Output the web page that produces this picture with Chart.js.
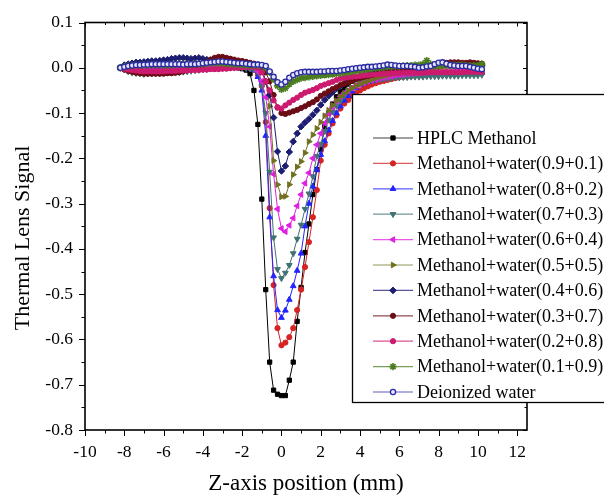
<!DOCTYPE html>
<html>
<head>
<meta charset="utf-8">
<script src="https://cdn.jsdelivr.net/npm/chart.js@4.4.1/dist/chart.umd.min.js"></script>
<style>
  body { margin: 0; background: #fff; }
  canvas { display: block; }
</style>
</head>
<body>
<canvas id="zscanChart" width="604" height="495"></canvas>
<script>
// Z-scan thermal lens signal
const zPos = [
  -8.2, -8.0, -7.8, -7.6, -7.4, -7.2, -7.0, -6.8, -6.6, -6.4,
  -6.2, -6.0, -5.8, -5.6, -5.4, -5.2, -5.0, -4.8, -4.6, -4.4,
  -4.2, -4.0, -3.8, -3.6, -3.4, -3.2, -3.0, -2.8, -2.6, -2.4,
  -2.2, -2.0, -1.8, -1.6, -1.4, -1.2, -1.0, -0.8, -0.6, -0.4,
  -0.2, 0.0, 0.2, 0.4, 0.6, 0.8, 1.0, 1.2, 1.4, 1.6,
  1.8, 2.0, 2.2, 2.4, 2.6, 2.8, 3.0, 3.2, 3.4, 3.6,
  3.8, 4.0, 4.2, 4.4, 4.6, 4.8, 5.0, 5.2, 5.4, 5.6,
  5.8, 6.0, 6.2, 6.4, 6.6, 6.8, 7.0, 7.2, 7.4, 7.6,
  7.8, 8.0, 8.2, 8.4, 8.6, 8.8, 9.0, 9.2, 9.4, 9.6,
  9.8, 10.0, 10.2
];

const hplcMethanol = [
  0.0, 0.002, 0.003, 0.004, 0.004, 0.004, 0.005, 0.005, 0.005, 0.005,
  0.005, 0.005, 0.005, 0.005, 0.005, 0.005, 0.005, 0.005, 0.005, 0.005,
  0.005, 0.005, 0.005, 0.005, 0.005, 0.004, 0.004, 0.004, 0.003, 0.002,
  0.0, -0.002, -0.005, -0.013, -0.05, -0.125, -0.29, -0.49, -0.65, -0.712,
  -0.721, -0.724, -0.724, -0.69, -0.65, -0.56, -0.485, -0.408, -0.345, -0.28,
  -0.225, -0.18, -0.13, -0.1, -0.08, -0.064, -0.053, -0.045, -0.036, -0.03,
  -0.026, -0.023, -0.021, -0.019, -0.018, -0.017, -0.016, -0.016, -0.015, -0.015,
  -0.014, -0.014, -0.014, -0.013, -0.013, -0.013, -0.012, -0.012, -0.012, -0.012,
  -0.011, -0.011, -0.011, -0.011, -0.011, -0.01, -0.01, -0.01, -0.01, -0.01,
  -0.01, -0.01, -0.01
];
const mw91 = [
  0.0, 0.001, 0.002, 0.002, 0.003, 0.003, 0.003, 0.003, 0.003, 0.003,
  0.003, 0.003, 0.003, 0.003, 0.003, 0.003, 0.003, 0.003, 0.003, 0.003,
  0.003, 0.004, 0.004, 0.004, 0.004, 0.004, 0.004, 0.003, 0.003, 0.003,
  0.002, 0.002, 0.001, -0.001, -0.005, -0.015, -0.04, -0.12, -0.31, -0.48,
  -0.575, -0.613, -0.607, -0.595, -0.575, -0.535, -0.49, -0.44, -0.385, -0.33,
  -0.27, -0.205, -0.17, -0.145, -0.123, -0.105, -0.09, -0.079, -0.071, -0.062,
  -0.056, -0.05, -0.045, -0.041, -0.037, -0.034, -0.031, -0.029, -0.027, -0.025,
  -0.023, -0.021, -0.02, -0.019, -0.018, -0.017, -0.016, -0.015, -0.015, -0.014,
  -0.014, -0.013, -0.013, -0.012, -0.012, -0.012, -0.011, -0.011, -0.011, -0.011,
  -0.011, -0.011, -0.011
];
const mw82 = [
  0.0, 0.001, 0.002, 0.003, 0.003, 0.003, 0.003, 0.003, 0.003, 0.003,
  0.003, 0.003, 0.003, 0.003, 0.003, 0.003, 0.004, 0.004, 0.004, 0.004,
  0.004, 0.004, 0.004, 0.004, 0.004, 0.004, 0.004, 0.004, 0.004, 0.004,
  0.004, 0.003, 0.002, 0.0, -0.005, -0.02, -0.05, -0.15, -0.33, -0.46,
  -0.535, -0.552, -0.536, -0.512, -0.482, -0.448, -0.41, -0.35, -0.3, -0.262,
  -0.225, -0.192, -0.162, -0.138, -0.117, -0.1, -0.085, -0.072, -0.062, -0.052,
  -0.044, -0.038, -0.034, -0.031, -0.029, -0.027, -0.025, -0.023, -0.021, -0.02,
  -0.019, -0.018, -0.017, -0.016, -0.016, -0.015, -0.015, -0.014, -0.014, -0.014,
  -0.013, -0.013, -0.013, -0.012, -0.012, -0.012, -0.012, -0.012, -0.011, -0.011,
  -0.011, -0.011, -0.011
];
const mw73 = [
  0.0, -0.004, -0.008, -0.011, -0.012, -0.013, -0.014, -0.013, -0.013, -0.012,
  -0.012, -0.011, -0.011, -0.01, -0.01, -0.01, -0.009, -0.008, -0.007, -0.006,
  -0.005, -0.004, -0.003, -0.002, -0.002, -0.001, -0.001, 0.0, 0.0, 0.0,
  0.0, 0.0, -0.001, -0.002, -0.004, -0.01, -0.04, -0.1, -0.23, -0.375,
  -0.445, -0.465, -0.453, -0.436, -0.41, -0.378, -0.347, -0.312, -0.278, -0.24,
  -0.195, -0.168, -0.14, -0.115, -0.097, -0.084, -0.073, -0.061, -0.05, -0.043,
  -0.037, -0.033, -0.031, -0.029, -0.028, -0.027, -0.026, -0.025, -0.024, -0.023,
  -0.022, -0.022, -0.021, -0.021, -0.02, -0.02, -0.02, -0.02, -0.019, -0.019,
  -0.019, -0.019, -0.018, -0.018, -0.018, -0.018, -0.018, -0.017, -0.017, -0.017,
  -0.017, -0.017, -0.016
];
const mw64 = [
  0.0, 0.001, 0.002, 0.003, 0.003, 0.004, 0.004, 0.004, 0.004, 0.004,
  0.004, 0.004, 0.004, 0.004, 0.004, 0.004, 0.005, 0.005, 0.005, 0.005,
  0.005, 0.006, 0.006, 0.006, 0.006, 0.006, 0.006, 0.006, 0.005, 0.005,
  0.005, 0.004, 0.004, 0.003, 0.002, -0.008, -0.03, -0.065, -0.13, -0.235,
  -0.312, -0.355, -0.362, -0.348, -0.332, -0.305, -0.28, -0.255, -0.232, -0.2,
  -0.17, -0.145, -0.122, -0.102, -0.087, -0.074, -0.063, -0.056, -0.05, -0.045,
  -0.04, -0.036, -0.033, -0.03, -0.028, -0.026, -0.024, -0.022, -0.02, -0.019,
  -0.017, -0.016, -0.015, -0.014, -0.013, -0.012, -0.011, -0.011, -0.01, -0.01,
  -0.009, -0.009, -0.009, -0.008, -0.008, -0.008, -0.008, -0.007, -0.007, -0.007,
  -0.006, -0.006, -0.006
];
const mw55 = [
  0.0, 0.002, 0.004, 0.005, 0.005, 0.006, 0.006, 0.006, 0.006, 0.006,
  0.006, 0.006, 0.006, 0.006, 0.006, 0.007, 0.007, 0.007, 0.007, 0.008,
  0.008, 0.009, 0.01, 0.011, 0.012, 0.012, 0.012, 0.011, 0.01, 0.009,
  0.009, 0.008, 0.008, 0.008, 0.007, 0.004, -0.01, -0.03, -0.085, -0.205,
  -0.258, -0.285, -0.284, -0.258, -0.236, -0.219, -0.207, -0.188, -0.163, -0.148,
  -0.134, -0.12, -0.106, -0.094, -0.083, -0.073, -0.064, -0.057, -0.05, -0.045,
  -0.04, -0.036, -0.032, -0.029, -0.026, -0.023, -0.02, -0.018, -0.016, -0.014,
  -0.012, -0.01, -0.008, -0.007, -0.006, -0.005, -0.004, -0.003, -0.002, -0.001,
  0.0, 0.001, 0.002, 0.003, 0.003, 0.004, 0.004, 0.005, 0.005, 0.005,
  0.005, 0.005, 0.005
];
const mw46 = [
  0.0, 0.006, 0.008, 0.01, 0.012, 0.012, 0.013, 0.014, 0.015, 0.015,
  0.016, 0.017, 0.018, 0.02, 0.021, 0.022, 0.022, 0.021, 0.02, 0.021,
  0.022, 0.02, 0.018, 0.017, 0.016, 0.015, 0.014, 0.013, 0.012, 0.011,
  0.011, 0.01, 0.01, 0.009, 0.008, 0.006, 0.0, -0.03, -0.06, -0.11,
  -0.185, -0.228, -0.217, -0.186, -0.163, -0.145, -0.13, -0.121, -0.113, -0.104,
  -0.094, -0.082, -0.071, -0.062, -0.054, -0.046, -0.04, -0.035, -0.03, -0.026,
  -0.022, -0.019, -0.016, -0.014, -0.012, -0.01, -0.008, -0.006, -0.005, -0.004,
  -0.002, -0.001, 0.0, 0.001, 0.002, 0.003, 0.003, 0.004, 0.005, 0.005,
  0.006, 0.006, 0.007, 0.007, 0.006, 0.006, 0.007, 0.007, 0.006, 0.006,
  0.005, 0.005, 0.004
];
const mw37 = [
  0.0, -0.004, -0.007, -0.009, -0.011, -0.012, -0.013, -0.013, -0.013, -0.013,
  -0.013, -0.013, -0.012, -0.012, -0.011, -0.01, -0.008, -0.006, -0.003, 0.0,
  0.004, 0.008, 0.013, 0.018, 0.022, 0.024, 0.024, 0.022, 0.02, 0.018,
  0.016, 0.015, 0.013, 0.011, 0.009, 0.006, 0.003, -0.01, -0.03, -0.06,
  -0.088, -0.1, -0.102, -0.099, -0.096, -0.093, -0.089, -0.085, -0.08, -0.076,
  -0.07, -0.062, -0.057, -0.052, -0.047, -0.043, -0.038, -0.035, -0.032, -0.029,
  -0.025, -0.022, -0.02, -0.018, -0.016, -0.014, -0.012, -0.011, -0.01, -0.008,
  -0.006, -0.004, -0.003, -0.002, -0.001, 0.0, 0.002, 0.003, 0.005, 0.006,
  0.007, 0.008, 0.01, 0.011, 0.012, 0.012, 0.012, 0.011, 0.011, 0.012,
  0.011, 0.01, 0.009
];
const mw28 = [
  0.0, -0.002, -0.004, -0.005, -0.006, -0.007, -0.008, -0.008, -0.008, -0.008,
  -0.008, -0.008, -0.007, -0.007, -0.007, -0.006, -0.006, -0.006, -0.005, -0.005,
  -0.005, -0.004, -0.004, -0.003, -0.003, -0.003, -0.002, -0.002, -0.001, 0.0,
  0.0, 0.001, 0.002, 0.002, 0.002, 0.0, -0.01, -0.03, -0.05, -0.072,
  -0.087, -0.09, -0.083, -0.077, -0.071, -0.066, -0.06, -0.055, -0.052, -0.049,
  -0.045, -0.04, -0.037, -0.034, -0.031, -0.027, -0.024, -0.022, -0.021, -0.02,
  -0.019, -0.018, -0.017, -0.016, -0.015, -0.015, -0.014, -0.013, -0.013, -0.012,
  -0.012, -0.012, -0.011, -0.011, -0.011, -0.011, -0.011, -0.011, -0.01, -0.01,
  -0.01, -0.01, -0.01, -0.01, -0.01, -0.01, -0.01, -0.01, -0.009, -0.009,
  -0.009, -0.009, -0.009
];
const mw19 = [
  0.0, 0.003, 0.004, 0.005, 0.006, 0.006, 0.006, 0.007, 0.007, 0.007,
  0.007, 0.006, 0.006, 0.007, 0.007, 0.008, 0.008, 0.007, 0.007, 0.008,
  0.008, 0.009, 0.009, 0.01, 0.01, 0.01, 0.01, 0.009, 0.008, 0.008,
  0.007, 0.007, 0.006, 0.006, 0.006, 0.006, 0.005, 0.0, -0.01, -0.025,
  -0.04, -0.048, -0.045, -0.036, -0.03, -0.026, -0.023, -0.022, -0.02, -0.019,
  -0.018, -0.017, -0.016, -0.015, -0.014, -0.013, -0.012, -0.011, -0.01, -0.008,
  -0.007, -0.005, -0.004, -0.003, -0.002, -0.001, 0.0, 0.001, 0.002, 0.003,
  0.003, 0.003, 0.004, 0.005, 0.005, 0.006, 0.006, 0.008, 0.016, 0.008,
  0.006, 0.006, 0.006, 0.007, 0.006, 0.006, 0.006, 0.006, 0.005, 0.005,
  0.005, 0.005, 0.008
];
const deionizedWater = [
  0.0, 0.002, 0.004, 0.005, 0.006, 0.006, 0.007, 0.007, 0.008, 0.008,
  0.008, 0.008, 0.008, 0.008, 0.008, 0.008, 0.007, 0.008, 0.008, 0.008,
  0.009, 0.01, 0.011, 0.012, 0.013, 0.014, 0.014, 0.013, 0.012, 0.011,
  0.01, 0.01, 0.009, 0.008, 0.007, 0.007, 0.006, 0.004, -0.008, -0.02,
  -0.032, -0.037, -0.031, -0.022, -0.016, -0.012, -0.01, -0.009, -0.009, -0.009,
  -0.009, -0.008, -0.008, -0.007, -0.007, -0.007, -0.006, -0.005, -0.003, -0.002,
  -0.001, 0.0, 0.001, 0.002, 0.002, 0.003, 0.004, 0.005, 0.007, 0.006,
  0.005, 0.004, 0.004, 0.004, 0.003, 0.002, 0.0, 0.001, 0.003, 0.004,
  0.008, 0.011, 0.012, 0.009, 0.006, 0.005, 0.004, 0.004, 0.004, 0.002,
  0.0, -0.002, -0.003
];

const seriesLabels = [
  'HPLC Methanol',
  'Methanol+water(0.9+0.1)',
  'Methanol+water(0.8+0.2)',
  'Methanol+water(0.7+0.3)',
  'Methanol+water(0.6+0.4)',
  'Methanol+water(0.5+0.5)',
  'Methanol+water(0.4+0.6)',
  'Methanol+water(0.3+0.7)',
  'Methanol+water(0.2+0.8)',
  'Methanol+water(0.1+0.9)',
  'Deionized water'
];
const seriesValues = [hplcMethanol, mw91, mw82, mw73, mw64, mw55, mw46, mw37, mw28, mw19, deionizedWater];

const xTicks = [-10, -8, -6, -4, -2, 0, 2, 4, 6, 8, 10, 12];
const yTicks = [-0.8, -0.7, -0.6, -0.5, -0.4, -0.3, -0.2, -0.1, 0.0, 0.1];
const xTitle = 'Z-axis position (mm)';
const yTitle = 'Thermal Lens Signal';

// marker / colour per series (Origin-like defaults)
const styles = [
  { color: '#000000', fill: '#000000', shape: 'rect', radius: 3, rot: 0 },
  { color: '#d42424', fill: '#d42424', shape: 'circle', radius: 2.6, rot: 0 },
  { color: '#2323ff', fill: '#2323ff', shape: 'triangle', radius: 3.3, rot: 0 },
  { color: '#407272', fill: '#407272', shape: 'triangle', radius: 3.3, rot: 180 },
  { color: '#e01fe0', fill: '#e01fe0', shape: 'triangle', radius: 3.3, rot: 270 },
  { color: '#707020', fill: '#707020', shape: 'triangle', radius: 3.3, rot: 90 },
  { color: '#1d1d72', fill: '#1d1d72', shape: 'rectRot', radius: 3.3, rot: 0 },
  { color: '#6b0d15', fill: '#6b0d15', shape: 'circle', radius: 2.6, rot: 0 },
  { color: '#cc1a6e', fill: '#cc1a6e', shape: 'circle', radius: 2.6, rot: 0 },
  { color: '#4b7d20', fill: '#4b7d20', shape: 'star', radius: 3.6, rot: 0 },
  { color: '#2a2aa2', fill: '#e6e6ff', shape: 'circle', radius: 2.6, rot: 0 }
];

const serif = 'Liberation Serif';

const datasets = seriesLabels.map((label, i) => ({
  label: label,
  data: zPos.map((z, k) => ({ x: z, y: seriesValues[i][k] })),
  borderColor: styles[i].color,
  borderWidth: 1,
  tension: 0,
  pointStyle: styles[i].shape,
  pointRotation: styles[i].rot,
  pointRadius: styles[i].radius,
  pointBackgroundColor: styles[i].fill,
  pointBorderColor: styles[i].color,
  pointBorderWidth: i === 9 ? 1.6 : (i === 10 ? 1.3 : 1),
  order: seriesLabels.length - i
}));

// box, ticks on all four sides (minor ticks half way)
const axisFrame = {
  id: 'axisFrame',
  afterDatasetsDraw(chart) {
    const { ctx, chartArea: a } = chart;
    const xs = chart.scales.x, ys = chart.scales.y;
    const xMinor = xTicks.slice(1).map((v, k) => (v + xTicks[k]) / 2);
    const yMinor = yTicks.slice(1).map((v, k) => (v + yTicks[k]) / 2);
    ctx.save();
    ctx.strokeStyle = '#000';
    ctx.lineWidth = 1;
    ctx.beginPath();
    xTicks.forEach(v => {
      const p = Math.round(xs.getPixelForValue(v)) + 0.5;
      ctx.moveTo(p, a.bottom); ctx.lineTo(p, a.bottom + 6);
      ctx.moveTo(p, a.top); ctx.lineTo(p, a.top + 4);
    });
    xMinor.forEach(v => {
      const p = Math.round(xs.getPixelForValue(v)) + 0.5;
      ctx.moveTo(p, a.bottom); ctx.lineTo(p, a.bottom + 3.5);
      ctx.moveTo(p, a.top); ctx.lineTo(p, a.top + 2.5);
    });
    yTicks.forEach(v => {
      const p = Math.round(ys.getPixelForValue(v)) + 0.5;
      ctx.moveTo(a.left - 6, p); ctx.lineTo(a.left, p);
      ctx.moveTo(a.right, p); ctx.lineTo(a.right - 4, p);
    });
    yMinor.forEach(v => {
      const p = Math.round(ys.getPixelForValue(v)) + 0.5;
      ctx.moveTo(a.left - 3.5, p); ctx.lineTo(a.left, p);
      ctx.moveTo(a.right, p); ctx.lineTo(a.right - 2.5, p);
    });
    ctx.stroke();
    ctx.lineWidth = 1.6;
    ctx.strokeRect(a.left, a.top, a.right - a.left, a.bottom - a.top);
    ctx.restore();
  }
};

// rotated y title, sits a little below the plot centre like the original
const yAxisTitle = {
  id: 'yAxisTitle',
  afterDraw(chart) {
    const ctx = chart.ctx;
    ctx.save();
    ctx.translate(23, 238);
    ctx.rotate(-Math.PI / 2);
    ctx.font = '22px "' + serif + '"';
    ctx.fillStyle = '#000';
    ctx.textAlign = 'center';
    ctx.textBaseline = 'middle';
    ctx.fillText(yTitle, 0, 0);
    ctx.restore();
  }
};

// boxed legend overlapping the right side of the plot
const boxLegend = {
  id: 'boxLegend',
  afterDraw(chart) {
    const ctx = chart.ctx;
    const left = 352.5, top = 94.5, bottom = 402.5;
    ctx.save();
    ctx.fillStyle = '#fff';
    ctx.fillRect(left, top, 300, bottom - top);
    ctx.strokeStyle = '#000';
    ctx.lineWidth = 1.3;
    ctx.strokeRect(left, top, 300, bottom - top);
    ctx.font = '18px "' + serif + '"';
    ctx.textBaseline = 'middle';
    chart.data.datasets.forEach((ds, i) => {
      const yy = 138 + i * 25.4;
      ctx.strokeStyle = ds.borderColor;
      ctx.globalAlpha = 0.75;
      ctx.lineWidth = 1.2;
      ctx.beginPath();
      ctx.moveTo(373, yy); ctx.lineTo(413, yy);
      ctx.stroke();
      ctx.globalAlpha = 1;
      ctx.fillStyle = ds.pointBackgroundColor;
      ctx.strokeStyle = ds.pointBorderColor;
      ctx.lineWidth = ds.pointBorderWidth;
      Chart.helpers.drawPoint(ctx, {
        pointStyle: ds.pointStyle,
        rotation: ds.pointRotation,
        radius: ds.pointRadius,
        borderWidth: ds.pointBorderWidth
      }, 393, yy);
      ctx.fillStyle = '#000';
      ctx.fillText(ds.label, 417, yy + 1);
    });
    ctx.restore();
  }
};

const ctx = document.getElementById('zscanChart').getContext('2d');
const zscanChart = new Chart(ctx, {
  type: 'line',
  data: { datasets: datasets },
  options: {
    responsive: false,
    animation: false,
    devicePixelRatio: 1,
    layout: { padding: { left: 0, right: 77, top: 20, bottom: 0 } },
    plugins: {
      legend: { display: false },
      tooltip: { enabled: false }
    },
    scales: {
      x: {
        type: 'linear',
        min: -10,
        max: 12.5,
        afterBuildTicks: s => { s.ticks = xTicks.map(v => ({ value: v })); },
        afterFit: s => { s.height = 65; },
        grid: { display: false, drawTicks: false },
        border: { display: false },
        ticks: {
          padding: 12,
          maxRotation: 0,
          autoSkip: false,
          color: '#000',
          font: { family: serif, size: 17.5 },
          callback: v => String(v)
        },
        title: {
          display: true,
          text: xTitle,
          color: '#000',
          font: { family: serif, size: 23 },
          padding: { top: 0, bottom: -3 }
        }
      },
      y: {
        type: 'linear',
        min: -0.8,
        max: 0.1,
        afterBuildTicks: s => { s.ticks = yTicks.map(v => ({ value: v })); },
        afterFit: s => { s.width = 85; },
        grid: { display: false, drawTicks: false },
        border: { display: false },
        ticks: {
          padding: 12,
          color: '#000',
          font: { family: serif, size: 17.5 },
          callback: v => v.toFixed(1)
        }
      }
    }
  },
  plugins: [axisFrame, yAxisTitle, boxLegend]
});
</script>
</body>
</html>
